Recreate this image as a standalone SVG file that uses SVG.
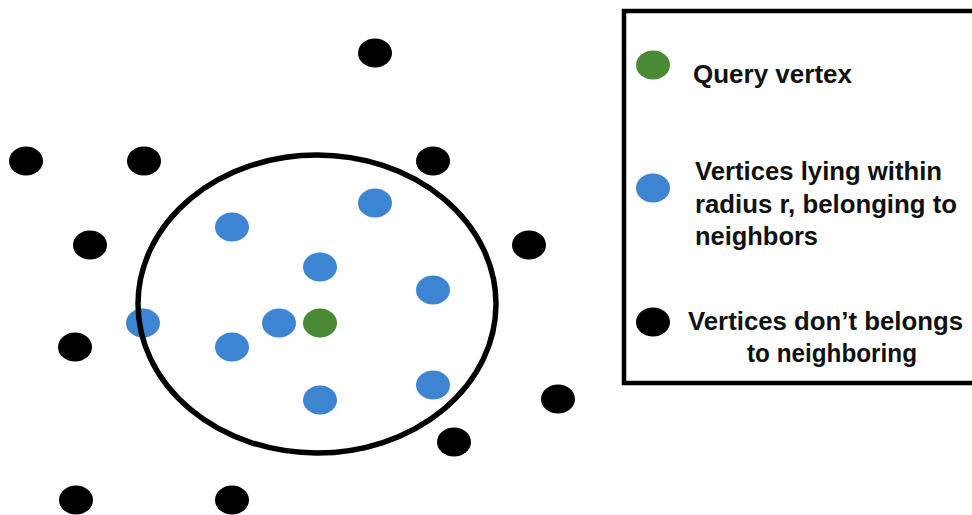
<svg xmlns="http://www.w3.org/2000/svg" width="972" height="515" viewBox="0 0 972 515">
  <style>
    .query { fill: #4b8a35; }
    .near { fill: #3d84d3; }
    .far { fill: #000000; }
    .radius { fill: none; stroke: #000000; stroke-width: 5.5; }
    .legend-box { fill: none; stroke: #000000; stroke-width: 4.5; }
    .label { font-family: "Liberation Sans", Arial, sans-serif; font-weight: bold; font-size: 25.5px; fill: #111111; }
  </style>
  <rect width="972" height="515" fill="#ffffff"/>

  <!-- vertex sitting on the boundary, drawn under the radius line -->
  <g id="boundary-vertex">
    <ellipse class="near" cx="143" cy="323" rx="17" ry="14.5"/>
  </g>

  <!-- neighbourhood radius around the query vertex -->
  <g id="radius-circle">
    <ellipse class="radius" cx="317" cy="304" rx="179" ry="149"/>
  </g>

  <!-- vertices outside the neighbourhood -->
  <g id="far-vertices">
    <ellipse class="far" cx="375" cy="53" rx="17" ry="14.5"/>
    <ellipse class="far" cx="26" cy="161" rx="17" ry="14.5"/>
    <ellipse class="far" cx="144" cy="161" rx="17" ry="14.5"/>
    <ellipse class="far" cx="433" cy="161" rx="17" ry="14.5"/>
    <ellipse class="far" cx="90" cy="245" rx="17" ry="14.5"/>
    <ellipse class="far" cx="529" cy="245" rx="17" ry="14.5"/>
    <ellipse class="far" cx="75" cy="347" rx="17" ry="14.5"/>
    <ellipse class="far" cx="558" cy="399" rx="17" ry="14.5"/>
    <ellipse class="far" cx="454" cy="442" rx="17" ry="14.5"/>
    <ellipse class="far" cx="76" cy="500" rx="17" ry="14.5"/>
    <ellipse class="far" cx="232" cy="500" rx="17" ry="14.5"/>
  </g>

  <!-- vertices within radius r -->
  <g id="near-vertices">
    <ellipse class="near" cx="232" cy="227" rx="17" ry="14.5"/>
    <ellipse class="near" cx="375" cy="203" rx="17" ry="14.5"/>
    <ellipse class="near" cx="320" cy="267" rx="17" ry="14.5"/>
    <ellipse class="near" cx="433" cy="290" rx="17" ry="14.5"/>
    <ellipse class="near" cx="279" cy="323" rx="17" ry="14.5"/>
    <ellipse class="near" cx="232" cy="347" rx="17" ry="14.5"/>
    <ellipse class="near" cx="320" cy="400" rx="17" ry="14.5"/>
    <ellipse class="near" cx="433" cy="385" rx="17" ry="14.5"/>
  </g>

  <!-- query vertex -->
  <g id="query-vertex">
    <ellipse class="query" cx="320" cy="323" rx="17" ry="14.5"/>
  </g>

  <!-- legend -->
  <g id="legend">
    <rect class="legend-box" x="624" y="11" width="360" height="372"/>
    <g id="legend-query">
      <ellipse class="query" cx="653" cy="65" rx="17" ry="14.5"/>
      <text class="label" x="693" y="83" textLength="159" lengthAdjust="spacingAndGlyphs">Query vertex</text>
    </g>
    <g id="legend-near">
      <ellipse class="near" cx="653" cy="188" rx="17" ry="14.5"/>
      <text class="label" x="695" y="180" textLength="247" lengthAdjust="spacingAndGlyphs">Vertices lying within</text>
      <text class="label" x="695" y="213" textLength="262" lengthAdjust="spacingAndGlyphs">radius r, belonging to</text>
      <text class="label" x="695" y="245" textLength="123" lengthAdjust="spacingAndGlyphs">neighbors</text>
    </g>
    <g id="legend-far">
      <ellipse class="far" cx="653" cy="322" rx="17" ry="14.5"/>
      <text class="label" x="688" y="330" textLength="275" lengthAdjust="spacingAndGlyphs">Vertices don’t belongs</text>
      <text class="label" x="747" y="362" textLength="170" lengthAdjust="spacingAndGlyphs">to neighboring</text>
    </g>
  </g>
</svg>
